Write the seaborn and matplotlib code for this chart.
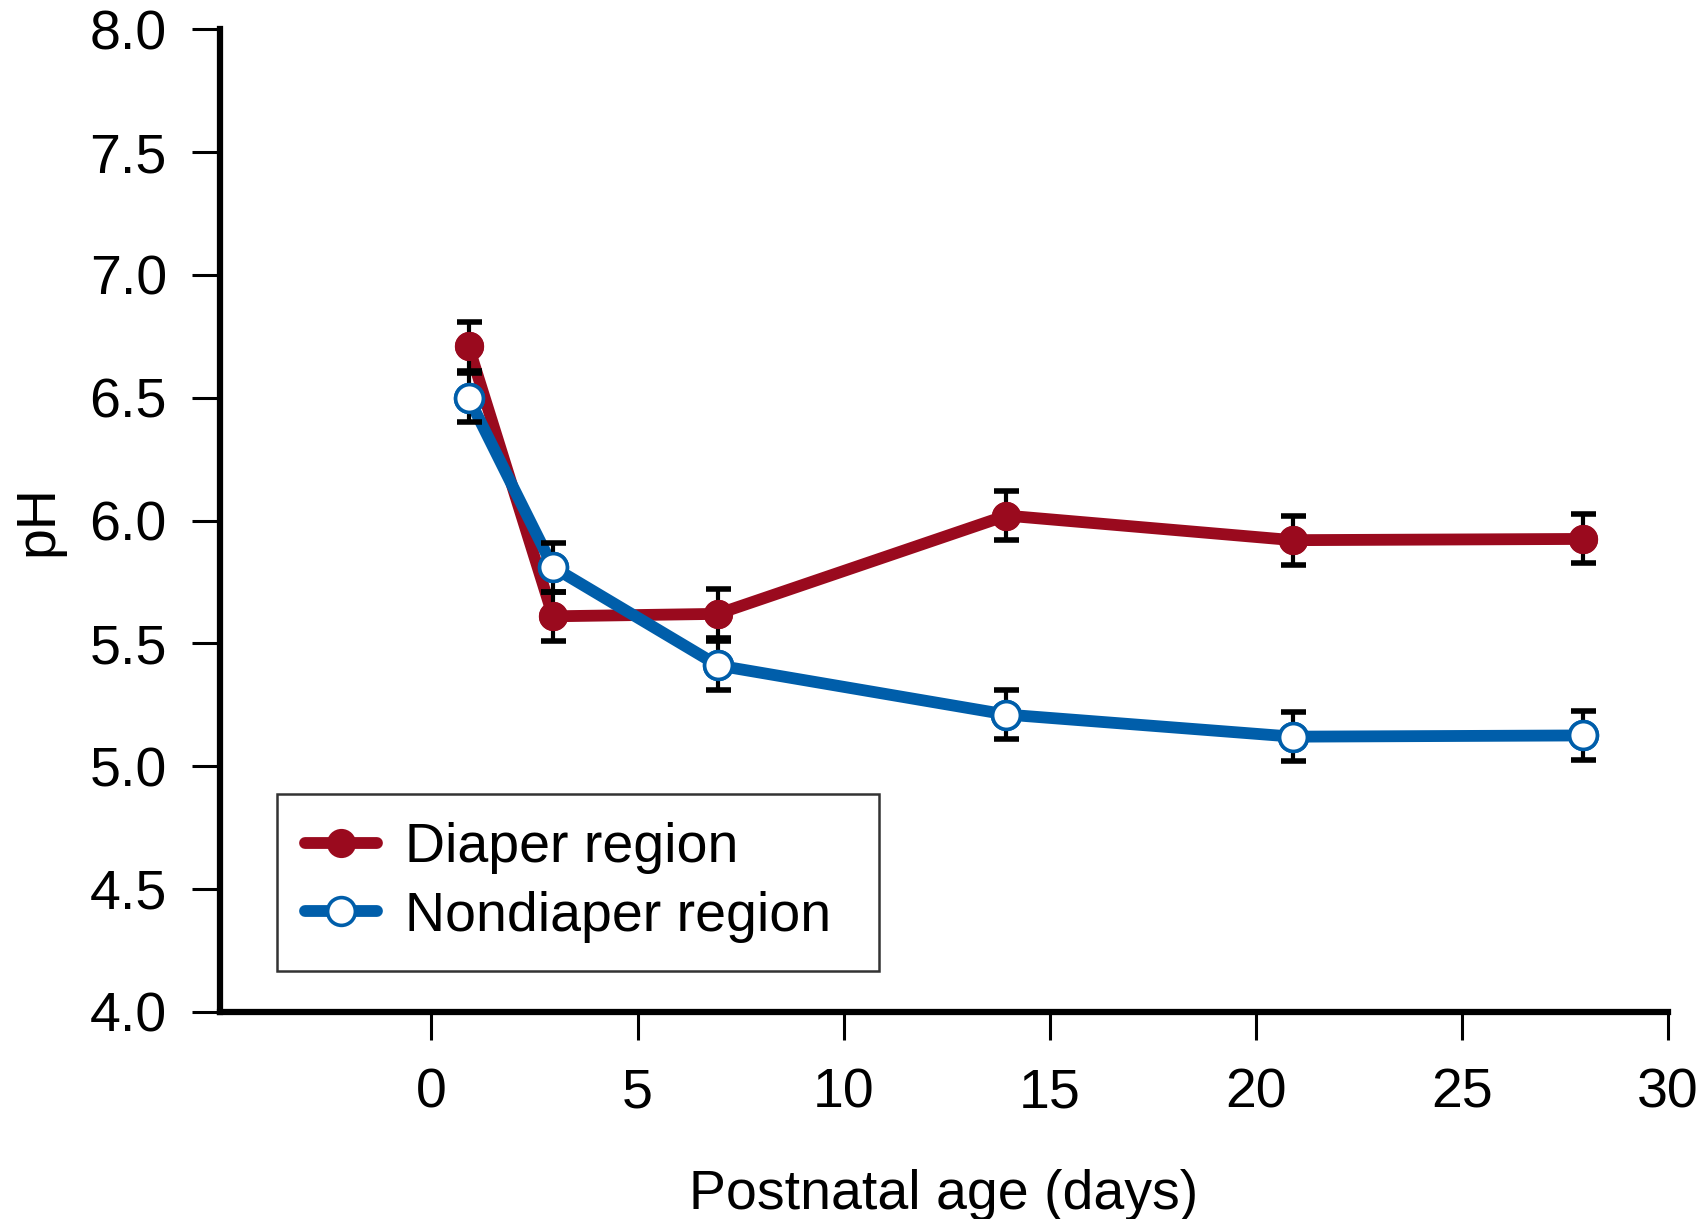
import numpy as np
import pandas as pd
import matplotlib
matplotlib.use("Agg")
import matplotlib.pyplot as plt
import seaborn as sns

# data
DAYS        = [0.9, 2.95, 6.95, 13.95, 20.9, 27.95]
DIAPER_PH   = [6.71, 5.61, 5.62, 6.02, 5.92, 5.925]
NONDIAP_PH  = [6.50, 5.81, 5.41, 5.21, 5.12, 5.125]
ERR         = [0.10, 0.10, 0.10, 0.10, 0.10, 0.10]
SERIES      = ["Diaper region", "Nondiaper region"]
X_TICKS     = [0, 5, 10, 15, 20, 25, 30]
Y_TICKS     = [4.0, 4.5, 5.0, 5.5, 6.0, 6.5, 7.0, 7.5, 8.0]

RED  = "#9A0A1E"
BLUE = "#005EAA"
LINE_W = 8.5

sns.set_style("ticks")
plt.rcParams["font.family"] = ["Liberation Sans", "DejaVu Sans"]
plt.rcParams["text.color"] = "black"
plt.rcParams["axes.labelcolor"] = "black"
plt.rcParams["xtick.color"] = "black"
plt.rcParams["ytick.color"] = "black"

fig = plt.figure(figsize=(17.02, 12.19), dpi=100)
ax = fig.add_axes([0.129, 0.170, 0.851, 0.806])

df = pd.DataFrame({
    "day": DAYS * 2,
    "ph": DIAPER_PH + NONDIAP_PH,
    "region": [SERIES[0]] * len(DAYS) + [SERIES[1]] * len(DAYS),
})

styles = {
    SERIES[0]: dict(color=RED, mfc=RED, mec=RED, ms=19.5, mew=1.5),
    SERIES[1]: dict(color=BLUE, mfc="white", mec=BLUE, ms=20, mew=2.6),
}

for name, vals in [(SERIES[0], DIAPER_PH), (SERIES[1], NONDIAP_PH)]:
    st = styles[name]
    sub = df[df["region"] == name]
    sns.lineplot(data=sub, x="day", y="ph", ax=ax, color=st["color"],
                 linewidth=LINE_W, marker="o", markersize=st["ms"],
                 markerfacecolor=st["mfc"], markeredgecolor=st["mec"],
                 markeredgewidth=st["mew"], label=name, zorder=2)
    ax.errorbar(DAYS, vals, yerr=ERR, fmt="none", ecolor="black",
                elinewidth=3, capsize=9, capthick=4, zorder=3)

for ln in ax.get_lines():
    ln.set_linewidth(LINE_W)

# markers redrawn on top of the error bars
for name, vals in [(SERIES[0], DIAPER_PH), (SERIES[1], NONDIAP_PH)]:
    st = styles[name]
    ax.plot(DAYS, vals, ls="none", marker="o", ms=st["ms"],
            mfc=st["mfc"], mec=st["mec"], mew=st["mew"], zorder=4)

ax.set_xlim(-5.14, 30)
ax.set_ylim(4.0, 8.0)
ax.set_xticks(X_TICKS)
ax.set_yticks(Y_TICKS)
ax.set_yticklabels([f"{v:.1f}" for v in Y_TICKS])
ax.tick_params(axis="both", labelsize=40, length=20, width=2.2,
               color="black", labelcolor="black", direction="out")
ax.tick_params(axis="x", pad=20)
ax.tick_params(axis="y", pad=18)
ax.spines[["top", "right"]].set_visible(False)
for s in ("left", "bottom"):
    ax.spines[s].set_linewidth(4.5)
    ax.spines[s].set_color("black")

ax.set_xlabel("Postnatal age (days)", fontsize=40, labelpad=36, color="black")
ax.set_ylabel("pH", fontsize=40, labelpad=18, color="black")

leg = ax.legend(loc="lower left", bbox_to_anchor=(0.040, 0.042, 0.415, 0.19),
                mode="expand", borderaxespad=0, fontsize=40, frameon=True,
                fancybox=False, handlelength=1.3, handletextpad=0.5,
                labelspacing=0.3, borderpad=0.5)
leg.get_frame().set_edgecolor("black")
leg.get_frame().set_linewidth(1.8)
for t in leg.get_texts():
    t.set_color("black")
for h in leg.legend_handles:
    h.set_linewidth(LINE_W)

fig.savefig("out.png", dpi=100)
